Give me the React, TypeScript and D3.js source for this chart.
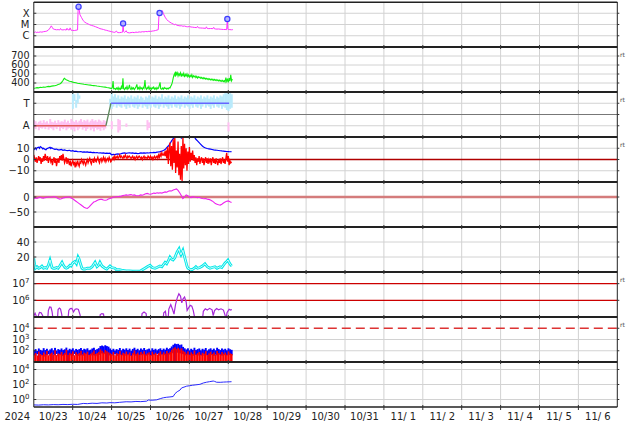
import React from 'react';
import * as d3 from 'd3';

const W = 634, H = 424;
const LEFT = 33.8, RIGHT = 617.3;
const PANEL_TOP = 2, PANEL_H = 45;

const yearLabel = '2024';
const dayLabels = ['10/23','10/24','10/25','10/26','10/27','10/28','10/29','10/30','10/31','11/ 1','11/ 2','11/ 3','11/ 4','11/ 5','11/ 6'];

// Panel 1: X-ray flux (hour since 10/23 00:00, W/m2)
const xrayFlux: [number, number][] = [
  [0,2.1e-6],[0.5,2.0e-6],[1,2.2e-6],[1.5,1.9e-6],[2,2.1e-6],[3,2.0e-6],[4,2.2e-6],[5,2.1e-6],[6,2.3e-6],[7,2.4e-6],[8,2.6e-6],[9,3.2e-6],[10,4.8e-6],[10.8,7.6e-6],[11.5,5.2e-6],[12,4.0e-6],[13,3.6e-6],[14,3.4e-6],[15,3.5e-6],[16,3.3e-6],[16.5,4.4e-6],[17,3.4e-6],[18,3.3e-6],[19,3.5e-6],[20,3.2e-6],[20.5,4.6e-6],[21,3.4e-6],[22,3.3e-6],[22.4,5.0e-6],[23,3.1e-6],[24,3.0e-6],[25,2.9e-6],[26,3.1e-6],[27,3.3e-6],
  [27.3,1.5e-4],[27.6,3.8e-4],[28,2.0e-4],[28.5,7.3e-5],[29.5,4.0e-5],[30.5,2.2e-5],[31.5,1.6e-5],[32.5,1.3e-5],[33.6,1.1e-5],[34.5,9.5e-6],[35.5,8.3e-6],[36.7,7.5e-6],[38,6.4e-6],[39,5.6e-6],[40,4.9e-6],[40.8,4.3e-6],[42,3.9e-6],[43,3.6e-6],[44,3.2e-6],[45,3.0e-6],[46,2.7e-6],[47,2.5e-6],[48,2.3e-6],[49,2.1e-6],[50,2.0e-6],[51,2.6e-6],[51.5,2.0e-6],[52,1.9e-6],[53,1.9e-6],[54,2.0e-6],[54.8,2.1e-6],
  [55.1,1.25e-5],[55.4,2.4e-6],[56,2.0e-6],[57,2.8e-6],[57.5,2.0e-6],[58,1.9e-6],[59,1.8e-6],[60,1.9e-6],[61,2.0e-6],[62,1.9e-6],[63,2.1e-6],[64,2.0e-6],[65,2.2e-6],[66,2.1e-6],[67,2.3e-6],[68,2.2e-6],[69,2.4e-6],[70,2.3e-6],[71,2.5e-6],[72,2.4e-6],[73,2.6e-6],[74,2.7e-6],[75,2.9e-6],[76,3.2e-6],[76.8,3.5e-6],
  [77.2,6.0e-5],[77.6,1.05e-4],[78.2,8.0e-5],[78.8,1.3e-4],[79.3,1.7e-4],[80,9.0e-5],[81,4.5e-5],[82,2.8e-5],[83,2.0e-5],[84,1.6e-5],[85,1.3e-5],[86,1.1e-5],[87,9.5e-6],[87.5,1.1e-5],[88,8.8e-6],[89,8.2e-6],[90.2,7.5e-6],[91,7.8e-6],[92,7.0e-6],[93,7.3e-6],[94,6.5e-6],[95,6.2e-6],[96,6.6e-6],[97,6.0e-6],[98,5.8e-6],[99,5.5e-6],[100.5,5.3e-6],[101,6.8e-6],[101.5,5.2e-6],[102,5.0e-6],[103,4.9e-6],[104,4.8e-6],[105,4.7e-6],[106,4.5e-6],[106.5,6.2e-6],[107,4.4e-6],[108,4.3e-6],[109,4.4e-6],[110.5,4.3e-6],[111,5.6e-6],[111.5,4.1e-6],[112,4.0e-6],[113,3.9e-6],[114,4.0e-6],[115,3.8e-6],[116,3.7e-6],[117,3.6e-6],[118,3.6e-6],[119,3.5e-6],
  [119.4,3.1e-5],[119.7,4.0e-6],[120,3.6e-6],[121,3.5e-6],[122,3.4e-6],[122.8,3.5e-6]
];
const flarePeaks: [number, number][] = [[27.6,3.8e-4],[55.1,1.25e-5],[77.6,1.05e-4],[119.4,3.1e-5]];
const xrayTicks: [number, string][] = [[1e-4,'X'],[1e-5,'M'],[1e-6,'C']];

// Panel 2: solar wind speed (km/s)
const windSpeed: [number, number][] = [
  [0,341],[1,344],[2,348],[3,346],[4,352],[5,350],[6,355],[7,353],[8,358],[9,362],[10,360],[11,365],[12,368],[13,370],[14,374],[15,382],[16,390],[17,402],[17.5,415],[18,428],[18.5,445],[19,452],[19.5,440],[20,436],[21,428],[22,420],[23,416],[24,410],[25,406],[26,402],[27,398],[28,395],[29,392],[30,389],[31,386],[32,384],[33,381],[34,378],[35,376],[36,373],[37,371],[38,369],[39,366],[40,364],[41,361],[42,359],[43,356],[44,354],[45,350],[46,347],[47,343],[48,338],[48.5,352],[48.9,422],[49.3,336],[50,340],[50.5,328],[51,345],[51.5,332],[52,350],[52.5,325],[53,342],[53.5,330],[54,360],[54.5,333],[55,452],[55.4,338],[56,326],[56.5,348],[57,335],[57.5,362],[58,330],[58.5,344],[59,378],[59.5,336],[60,328],[60.5,352],[61,334],[61.5,346],[62,326],[62.5,340],[63,355],[63.6,384],[64,335],[64.5,348],[65,330],[65.5,358],[66,336],[66.5,345],[67,328],[67.5,352],[68,340],[68.6,433],[69,345],[69.5,330],[70,350],[70.5,336],[71,362],[71.5,332],[72,345],[72.5,328],[73,350],[73.5,338],[74,355],[74.5,332],[75,344],[75.5,328],[76,350],[76.5,336],[77,346],[77.9,408],[78.3,338],[79,330],[79.5,345],[80,332],[80.5,350],[81,338],[81.5,345],[82,332],[82.5,342],[83,335],[83.5,348],[84,345],[84.5,365],[85,380],[85.5,410],[86,455],[86.5,490],[87,508],[87.3,470],[87.6,526],[88,495],[88.5,515],[89,478],[89.5,505],[90,485],[90.5,512],[91,470],[91.5,500],[92,482],[92.5,508],[93,465],[93.5,495],[94,478],[94.5,500],[95,470],[95.5,490],[96,465],[96.5,485],[97,470],[97.5,492],[98,462],[98.5,480],[99,468],[99.5,478],[100,460],[100.5,474],[101,455],[101.5,470],[102,458],[102.5,466],[103,452],[103.5,463],[104,450],[104.5,460],[105,446],[105.5,457],[106,444],[106.5,453],[107,440],[107.5,450],[108,438],[108.5,447],[109,435],[109.5,444],[110,432],[110.5,442],[111,430],[111.5,440],[112,428],[112.5,437],[113,425],[113.5,435],[114,423],[114.5,432],[115,420],[115.5,430],[116,418],[116.5,428],[117,415],[117.5,426],[118,412],[118.5,460],[119,418],[119.5,440],[120,408],[120.5,455],[121,420],[121.5,490],[122,425],[122.5,445]
];
const speedTicks = [400, 500, 600, 700];

// Panel 3: IMF sector (1 = Away, 3 = Toward)
const sectorLine: [number, number][] = [[0,1],[44.5,1],[47.6,3],[120.5,3]];
const awayBars: [number, number, number][] = [
  [0,0.8,1.5],[1,0.7,1.4],[2,0.9,1.2],[3,0.6,1.35],[4,0.8,1.45],[5,0.75,1.25],[6,0.85,1.5],[7,0.7,1.3],[8,0.9,1.4],[9,0.65,1.2],[10,0.8,1.6],[11,0.75,1.35],[12,0.6,1.3],[13,0.85,1.45],[14,0.7,1.25],[15,0.9,1.5],[16,0.55,1.3],[17,0.8,1.4],[18,0.7,1.35],[19,0.85,1.55],[20,0.6,1.3],[21,0.75,1.45],[22,0.8,1.25],[23,0.65,1.6],[24,0.7,1.4],[25,0.5,1.35],[26,0.85,1.5],[27,0.6,1.3],[28,0.75,1.45],[29,0.9,1.6],[30,0.65,1.35],[31,0.8,1.5],[32,0.55,1.4],[33,0.7,1.55],[34,0.85,1.3],[35,0.6,1.45],[36,0.75,1.6],[37,0.5,1.4],[38,0.8,1.5],[39,0.65,1.35],[40,0.7,1.55],[41,0.55,1.45],[42,0.8,1.3],[43,0.6,1.5],[44,0.75,1.4],
  [48,0.7,1.4],[52,0.4,1.6],[53,0.6,1.5],[57,0.9,1.2],[70,0.6,1.5],[71,0.8,1.3],[120,0.5,1.3]
];
const towardBars: [number, number, number][] = [
  [24,2.5,3.9],[25,3.2,3.8],[26,2.6,3.3],[27,3.0,3.9],[28,3.4,3.7],
  [47,2.8,3.4],[48,2.5,3.9],[49,2.7,3.6],[50,2.9,3.8],[51,2.6,3.5],[52,2.8,3.7],[53,2.7,3.4],[54,2.6,3.6],[55,2.9,3.5],[56,2.7,3.7],[57,2.5,3.4],[58,2.8,3.6],[59,2.6,3.5],[60,2.9,3.7],[61,2.7,3.4],[62,2.6,3.6],[63,2.8,3.5],[64,2.5,3.7],[65,2.7,3.4],[66,2.9,3.6],[67,2.6,3.5],[68,2.8,3.3],[69,2.7,3.6],[70,2.5,3.5],[71,2.8,3.7],[72,2.6,3.4],[73,2.9,3.6],[74,2.7,3.5],[75,2.6,3.7],[76,2.8,3.4],[77,2.5,3.6],[78,2.7,3.5],[79,2.9,3.8],[80,2.6,3.4],[81,2.8,3.6],[82,2.7,3.5],[83,2.5,3.7],[84,2.8,3.4],[85,2.6,3.6],[86,2.9,3.5],[87,2.7,3.7],[88,2.6,3.4],[89,2.8,3.6],[90,2.5,3.5],[91,2.7,3.7],[92,2.9,3.4],[93,2.6,3.6],[94,2.8,3.5],[95,2.7,3.7],[96,2.5,3.4],[97,2.8,3.6],[98,2.6,3.5],[99,2.9,3.7],[100,2.7,3.4],[101,2.6,3.6],[102,2.8,3.5],[103,2.5,3.7],[104,2.7,3.4],[105,2.9,3.6],[106,2.6,3.5],[107,2.8,3.7],[108,2.7,3.4],[109,2.5,3.6],[110,2.8,3.5],[111,2.6,3.7],[112,2.9,3.4],[113,2.7,3.6],[114,2.6,3.5],[115,2.8,3.7],[116,2.5,3.6],[117,2.7,3.8],[118,2.6,3.9],[119,2.4,3.9],[120,2.3,4.0],[121,2.5,3.9],[122,2.6,3.8]
];

// Panel 4: IMF Bt and Bz (nT)
const imfBt: [number, number][] = [
  [0,8.5],[0.5,9.5],[1,10.2],[1.5,9],[2,10.5],[3,11],[3.5,10],[4,11.5],[5,10.5],[5.5,9.5],[6,10],[7,9],[7.5,8.7],[8,9.5],[9,10.2],[10,10.8],[10.5,9.8],[11,10.5],[12,9.6],[13,9],[14,9.3],[15,8.6],[16,8.5],[17,8.9],[18,8.2],[19,8.6],[20,8],[21,7.9],[22,8.2],[23,7.5],[24,7.8],[25,7.2],[26,7.4],[27,7],[28,6.9],[29,7.1],[30,6.6],[31,6.8],[32,6.5],[33,6.7],[34,6.3],[35,6.5],[36,6.1],[37,6.3],[38,6],[39,6.2],[40,5.8],[41,6],[42,5.6],[43,5.9],[44,5.5],[45,5.7],[46,5.4],[47,5.6],[48,4.2],[49,4.6],[50,4.3],[51,4.8],[52,5],[53,4.7],[54,5.3],[55,5.6],[56,5.9],[57,5.5],[58,5.8],[59,6],[60,5.7],[61,5.9],[62,5.4],[63,5.6],[64,5.3],[65,5.5],[66,5.8],[67,5.6],[68,5.9],[69,5.7],[70,6],[71,5.8],[72,6.1],[73,6],[74,6.3],[75,6.2],[76,6.5],[77,6.7],[78,7],[79,7.4],[80,8],[81,8.8],[82,10.5],[83,12],[84,14],[85,16.5],[86,18.5],[87,20.5],[88,22],[89,21.5],[90,22.5],[91,19],[92,21],[93,22],[94,21.5],[95,22],[96,21],[97,21.5],[98,20.5],[99,20.2],[100,18],[101,16.5],[102,15],[103,13.5],[104,12],[105,10.8],[106,10.2],[107,9.8],[108,9.5],[109,9.2],[110,8.9],[111,8.6],[112,8.4],[113,8.2],[114,8],[115,7.8],[116,7.6],[117,7.5],[118,7.3],[119,7.1],[120,7],[121,6.9],[122,7]
];
const imfBz: [number, number][] = [
  [0,4],[0.5,1],[1,-2],[1.5,2],[2,-3],[2.5,0],[3,3],[3.5,-1],[4,2],[4.5,-4],[5,1],[5.5,-2],[6,3],[6.5,-1],[7,5],[7.5,2],[8,-1],[8.5,3],[9,-3],[9.5,1],[10,2],[10.5,-2],[11,0],[11.5,-5],[12,-1],[12.5,2],[13,-3],[13.5,1],[14,-6],[14.5,-2],[15,1],[15.5,-3],[16,3],[16.5,0],[17,4],[17.5,-1],[18,5],[18.5,1],[19,-3],[19.5,-1],[20,2],[20.5,-4],[21,1],[21.5,-2],[22,-5],[22.5,-1],[23,-6],[23.5,-3],[24,-1],[24.5,-4],[25,-2],[25.5,-7],[26,-3],[26.5,-5],[27,-1],[27.5,-4],[28,-6],[28.5,-2],[29,-3],[29.5,0],[30,-2],[30.5,-4],[31,-1],[31.5,-3],[32,-5],[32.5,-2],[33,0],[33.5,-3],[34,-1],[34.5,1],[35,-2],[35.5,-4],[36,-1],[36.5,0],[37,-3],[37.5,1],[38,-1],[38.5,-2],[39,0],[39.5,2],[40,-1],[40.5,-3],[41,0],[41.5,1],[42,-2],[42.5,0],[43,2],[43.5,-1],[44,1],[44.5,-2],[45,0],[45.5,1],[46,-1],[46.5,2],[47,0],[47.5,-2],[48,-1],[48.5,1],[49,2],[49.5,0],[50,3],[50.5,1],[51,2],[51.5,3],[52,1],[52.5,2],[53,4],[53.5,2],[54,3],[55,1],[55.5,3],[56,2],[56.5,4],[57,2],[57.5,1],[58,3],[58.5,2],[59,3],[60,1],[60.5,2],[61,3],[61.5,1],[62,2],[62.5,0],[63,2],[63.5,3],[64,1],[64.5,2],[65,3],[66,1],[66.5,2],[67,0],[67.5,2],[68,3],[68.5,1],[69,2],[70,1],[70.5,3],[71,2],[71.5,1],[72,3],[72.5,1],[73,2],[73.5,0],[74,2],[74.5,3],[75,1],[75.5,2],[76,3],[76.5,1],[77,4],[77.5,2],[78,5],[78.5,3],[79,6],[79.5,4],
  [80,4],[80.5,6],[81,3],[81.5,8],[82,1],[82.5,11],[83,-4],[83.5,9],[84,15],[84.5,-6],[85,12],[85.5,-9],[86,18],[86.5,-3],[87,20],[87.5,-12],[88,8],[88.5,-7],[89,16],[89.5,-14],[90,5],[90.5,-18],[91,12],[91.5,-19],[92,20],[92.5,-8],[93,14],[93.5,-5],[94,10],[94.5,-10],[95,7],[95.5,-4],[96,11],[96.5,-2],[97,6],[97.5,0],[98,8],[98.5,-1],[99,4],[99.5,-3],[100,2],[100.5,-5],[101,1],[101.5,-2],[102,3],[102.5,-4],[103,0],[103.5,2],[104,-3],[104.5,1],[105,-5],[105.5,-1],[106,2],[106.5,-3],[107,1],[107.5,-4],[108,0],[108.5,-2],[109,1],[109.5,-5],[110,-1],[110.5,2],[111,-3],[111.5,0],[112,-4],[112.5,1],[113,-2],[113.5,-5],[114,0],[114.5,-3],[115,1],[115.5,-4],[116,-1],[116.5,2],[117,-3],[117.5,0],[118,-4],[118.5,1],[119,6],[119.5,-2],[120,3],[120.5,-5],[121,-1],[121.5,-3],[122,-2]
];
const imfTicks = [10, 0, -10];

// Panel 5: Dst (nT)
const dstIndex: [number, number][] = [
  [0,-4],[1,-3],[2,-5],[3,-2],[4,-1],[5,-3],[6,-4],[7,-2],[8,-1],[9,0],[10,0],[11,-1],[12,1],[13,1],[14,-2],[15,-5],[16,-7],[17,-6],[18,-3],[19,-2],[20,-1],[21,0],[22,0],[23,-3],[24,-6],[25,-10],[26,-14],[27,-18],[28,-22],[29,-26],[30,-30],[31,-34],[32,-37],[33,-38],[34,-34],[35,-28],[36,-22],[37,-17],[38,-15],[39,-12],[40,-9],[41,-8],[42,-8],[43,-10],[44,-11],[45,-10],[46,-7],[47,-5],[48,-3],[49,-1],[50,0],[51,1],[52,1],[53,2],[54,3],[55,5],[56,6],[57,7],[58,6],[59,7],[60,8],[61,6],[62,7],[63,5],[64,4],[65,5],[66,7],[67,6],[68,8],[69,11],[70,12],[71,10],[72,9],[73,11],[74,13],[75,12],[76,14],[77,13],[78,14],[79,13],[80,15],[81,17],[82,16],[83,19],[84,21],[85,20],[86,23],[87,25],[88,27],[89,22],[90,14],[91,5],[92,-5],[93,0],[94,7],[95,4],[96,0],[97,-2],[98,1],[99,0],[100,-1],[101,-2],[102,-1],[103,-3],[104,-5],[105,-6],[106,-5],[107,-7],[108,-8],[109,-10],[110,-13],[111,-17],[112,-22],[113,-24],[114,-26],[115,-27],[116,-24],[117,-20],[118,-17],[119,-14],[120,-13],[121,-16],[122,-18]
];
const dstTicks = [0, -50];

// Panel 6
const cyanIndex: [number, number][] = [
  [0,18],[0.5,10],[1,5],[2,7],[3,5],[4,6],[5,8],[6,5],[7,6],[8,5],[9,9],[10,16],[10.5,12],[11.2,6],[12,5],[13,5],[14,6],[15,5],[16,8],[17.4,13],[18,10],[19.2,6],[20,5],[21,6],[22.3,9],[23,8],[24,12],[25.4,14],[26.3,11],[27.3,20],[28,17],[28.5,13],[29.7,5],[30.5,4],[31.6,4],[33,5],[34.7,5],[36,7],[37.8,13],[39,7],[40,9],[40.8,13],[42,8],[43.9,5],[45,4],[46,6],[47,8],[48,6],[50,5],[51,3],[53,3],[55,2],[57,1.5],[59,1.5],[61,1],[63,1.2],[65.5,1],[67,3],[68.6,5],[70,7],[71.7,9],[73,6],[74.8,5],[76,6],[77.8,8],[79,7],[81,13],[82,11],[83,15],[84,20],[85,17],[85.9,16],[87,19],[87.7,23],[88.5,27],[89.6,31],[90.2,26],[90.8,23],[92,29],[92.8,22],[93.9,13],[94.5,8],[95.1,5],[96,4],[97.6,3],[99,5],[100,7],[101,5],[102.5,6],[104,8],[105.6,11],[107,7],[108.7,5],[110,6],[111.8,7],[113,5],[114.9,7],[116,6],[117,9],[118,12],[119,14],[119.8,16],[120.7,12],[121.6,9],[122.2,8]
];
const cyanTicks = [40, 20];

// Panel 7
const purpleFlux: [number, number][] = [
  [0,1.2e5],[0.8,1.7e5],[1.6,1.1e5],[2.2,6e4],[3,1.4e5],[3.5,1.9e5],[4.5,1.8e5],[5.5,1.2e5],[6,6e4],[8.5,6e4],[9,2.5e5],[9.8,4e5],[10.6,3.8e5],[11.3,2e5],[12,6e4],[14.5,6e4],[15,2.8e5],[15.8,3.4e5],[16.5,3e5],[17.2,1.5e5],[17.8,6e4],[21,6e4],[21.6,2.5e5],[22.5,3.2e5],[23.5,3.3e5],[24.5,2.0e5],[25.5,2.9e5],[26.5,3.1e5],[27.5,2.8e5],[28.5,1.4e5],[29.2,6e4],[40.5,6e4],[41,1.4e5],[42,1.6e5],[43,1.5e5],[43.6,6e4],[66.3,6e4],[66.8,1.6e5],[68,2e5],[69.3,1.6e5],[69.8,6e4],[79.6,6e4],[80.2,1.8e5],[81.2,2.2e5],[82,6e4],[82.8,6e4],[83.3,3e5],[84.5,5.5e5],[85.5,3e5],[86.5,1.5e5],[87.5,6e5],[88.5,1.4e6],[89.5,2.5e6],[90.5,1.8e6],[91.3,7e5],[92,1.2e6],[93,1.6e6],[94,8e5],[94.6,2.5e5],[95.5,3.5e5],[96.5,5e5],[97.5,4.5e5],[98.4,2.4e5],[99,1.2e5],[99.6,6e4],[104,6e4],[104.6,2.2e5],[105.8,3.1e5],[107,2.6e5],[108.5,3.3e5],[110,2.7e5],[110.7,1.2e5],[111.5,2.4e5],[112.8,3.2e5],[114,2.7e5],[115.5,3.1e5],[117,2.6e5],[118,1.3e5],[118.6,6e4],[119.2,1.8e5],[120.5,2.9e5],[121.5,2.6e5],[122.2,2.8e5]
];
const purpleTicks = [1e6, 1e7];

// Panel 8 (hourly, from hour 0)
const blueHi = [110,140,95,160,120,105,170,115,150,100,130,165,110,180,105,140,120,160,115,135,190,110,150,125,165,105,145,120,140,175,115,150,130,165,110,125,160,185,120,140,170,260,290,250,310,260,230,160,115,150,105,140,120,175,110,150,125,165,115,155,100,145,185,120,150,110,160,125,175,115,135,155,105,165,120,150,110,140,165,115,155,125,185,140,170,240,340,430,390,410,320,360,220,165,130,165,110,150,120,185,115,140,160,110,150,125,175,105,135,165,120,155,110,185,140,115,160,125,150,110,165,135,120];
const blueLo = [40,35,50,12,45,38,55,30,42,48,36,14,44,39,52,33,46,40,35,50,41,12,38,45,36,52,40,34,47,39,43,36,50,13,41,37,46,40,33,48,42,55,60,50,58,12,45,38,44,36,50,40,35,47,42,38,52,36,44,40,34,49,41,37,45,12,43,39,50,36,42,47,35,40,44,38,52,36,41,45,39,47,12,42,50,60,70,12,65,72,58,66,50,44,38,46,12,40,36,48,42,37,45,40,35,49,43,38,12,46,41,36,44,39,47,42,37,45,40,38,44,41,39];
const redHi = [45,62,38,85,50,42,70,48,95,40,55,68,44,110,41,58,52,78,47,63,120,44,66,55,88,40,72,50,64,98,47,68,58,82,44,55,70,105,52,62,80,130,100,70,115,90,72,60,48,78,40,62,52,95,45,66,55,85,48,70,38,62,105,52,68,45,78,55,90,48,60,72,42,82,52,66,45,62,88,48,72,55,95,62,80,120,160,200,140,180,130,165,100,80,55,88,45,72,52,105,48,62,78,45,66,55,92,42,58,82,52,70,45,95,62,48,78,55,68,45,88,60,52];
const bandTicks = [1e2, 1e3, 1e4];

// Panel 9
const fluenceLine: [number, number][] = [
  [0,0.19],[3,0.18],[6,0.2],[9,0.19],[12,0.21],[15,0.2],[18,0.22],[21,0.21],[24,0.23],[27,0.22],[28.5,0.25],[30.5,0.3],[33,0.28],[36,0.32],[39,0.3],[42,0.36],[45,0.34],[47,0.38],[50,0.36],[53,0.42],[57,0.5],[60,0.48],[63,0.55],[66,0.52],[69.6,0.6],[70.7,0.85],[73,0.8],[75.8,0.9],[78,1.3],[79.9,1.7],[82,2],[84,2.2],[86,2.5],[87.1,6],[88.5,11],[90.2,18],[91.2,35],[93.3,50],[94.3,60],[96,68],[98,80],[100,90],[102.5,105],[104.6,160],[106.5,200],[108.5,240],[110.7,290],[111.5,260],[112.8,200],[115,195],[117,210],[119,220],[121,230],[122,235]
];
const fluenceTicks = [1e0, 1e2, 1e4];

const FONT = 'DejaVu Sans, sans-serif';

function pow10Label(v: number) {
  return Math.round(Math.log10(v));
}

export default function App() {
  const x = d3.scaleLinear().domain([0, 360]).range([LEFT, RIGHT]);
  const pt = (i: number) => PANEL_TOP + i * PANEL_H;
  const pb = (i: number) => PANEL_TOP + (i + 1) * PANEL_H;

  const y1 = d3.scaleLog().domain([1e-7, 1e-3]).range([pb(0), pt(0)]);
  const y2 = d3.scaleLinear().domain([300, 800]).range([pb(1), pt(1)]);
  const y3 = d3.scaleLinear().domain([0, 4]).range([pb(2), pt(2)]);
  const y4 = d3.scaleLinear().domain([-20, 20]).range([pb(3), pt(3)]);
  const y5 = d3.scaleLinear().domain([-100, 50]).range([pb(4), pt(4)]);
  const y6 = d3.scaleLinear().domain([0, 60]).range([pb(5), pt(5)]);
  const y7 = d3.scaleLog().domain([1e5, 5e7]).range([pb(6), pt(6)]);
  const y8 = d3.scaleLog().domain([10, 1e5]).range([pb(7), pt(7)]);
  const y9 = d3.scaleLog().domain([0.1, 1e5]).range([pb(8), pt(8)]);

  const mk = (ys: any) => d3.line<[number, number]>().x(d => x(d[0])).y(d => ys(d[1]));

  const gridC = '#d2d2d2';
  const days = d3.range(1, 15).map(i => i * 24);
  const hourW = x(1) - x(0);

  const hLines: { y: number; }[] = [];
  const addH = (ys: any, vals: number[]) => vals.forEach(v => hLines.push({ y: ys(v) }));
  addH(y1, [1e-4, 1e-5, 1e-6]);
  addH(y2, speedTicks);
  addH(y3, [1, 3]);
  addH(y4, [10, -10]);
  addH(y5, [-50]);
  addH(y6, cyanTicks);
  addH(y8, [1e2, 1e3]);
  addH(y9, fluenceTicks);

  const tickYs: number[] = [];
  [[y1,[1e-4,1e-5,1e-6]],[y2,speedTicks],[y3,[1,2,3]],[y4,imfTicks],[y5,dstTicks],[y6,cyanTicks],[y7,purpleTicks],[y8,bandTicks],[y9,fluenceTicks]].forEach(([s, vs]: any) => vs.forEach((v: number) => tickYs.push(s(v))));

  const labelStyle = { fontFamily: FONT, fontSize: 10, fill: '#222' } as const;
  const smallLabel = { fontFamily: FONT, fontSize: 9.6, fill: '#222' } as const;
  const LX = 29.5;

  const rtPanels = [1, 2, 3, 6, 7];

  const clip = (i: number) => `url(#clip${i})`;

  const sectorColor = (a: number, b: number) => (a === 1 && b === 1 ? '#e05a5a' : a === 3 && b === 3 ? '#6666ff' : '#5d8a5d');

  const powLabel = (ys: any, v: number, key: string) => (
    <text key={key} x={LX} y={ys(v)} dy="0.35em" textAnchor="end" style={labelStyle}>
      10<tspan dy="-4" fontSize="7">{pow10Label(v)}</tspan>
    </text>
  );

  return (
    <svg width={W} height={H} style={{ position: 'fixed', left: 0, top: 0, background: '#fff' }}>
      <defs>
        {d3.range(9).map(i => (
          <clipPath id={`clip${i}`} key={i}>
            <rect x={LEFT} y={pt(i)} width={RIGHT - LEFT} height={PANEL_H} />
          </clipPath>
        ))}
      </defs>
      <rect x={0} y={0} width={W} height={H} fill="#fff" />

      {days.map(d => (
        <line key={d} x1={x(d)} x2={x(d)} y1={pt(0)} y2={pb(8)} stroke={gridC} strokeWidth={1} />
      ))}
      {hLines.map((h, i) => (
        <line key={i} x1={LEFT} x2={RIGHT} y1={h.y} y2={h.y} stroke={gridC} strokeWidth={1} />
      ))}

      <g clipPath={clip(0)}>
        <path d={mk(y1)(xrayFlux) || ''} fill="none" stroke="#ff33ff" strokeWidth={1} />
      </g>
      {flarePeaks.map((p, i) => (
        <circle key={i} cx={x(p[0])} cy={y1(p[1])} r={2.6} fill="#b4b4ff" stroke="#3c3cff" strokeWidth={1.2} />
      ))}

      <g clipPath={clip(1)}>
        <path d={mk(y2)(windSpeed) || ''} fill="none" stroke="#11ee11" strokeWidth={1.1} />
      </g>

      <g clipPath={clip(2)}>
        <line x1={LEFT} x2={RIGHT} y1={y3(2)} y2={y3(2)} stroke="#777" strokeWidth={1} />
        {awayBars.map((b, i) => (
          <rect key={'a' + i} x={x(b[0]) - hourW / 2} width={hourW + 0.4} y={y3(b[2])} height={y3(b[1]) - y3(b[2])} fill="#ffc0f2" />
        ))}
        {towardBars.map((b, i) => (
          <rect key={'t' + i} x={x(b[0]) - hourW / 2} width={hourW + 0.4} y={y3(b[2])} height={y3(b[1]) - y3(b[2])} fill="#b9eafb" />
        ))}
        {sectorLine.slice(1).map((p, i) => {
          const a = sectorLine[i];
          return <line key={i} x1={x(a[0])} y1={y3(a[1])} x2={x(p[0])} y2={y3(p[1])} stroke={sectorColor(a[1], p[1])} strokeWidth={1.3} />;
        })}
      </g>

      <g clipPath={clip(3)}>
        <line x1={LEFT} x2={RIGHT} y1={y4(0)} y2={y4(0)} stroke="#b00000" strokeWidth={1.4} />
        <path d={mk(y4)(imfBt) || ''} fill="none" stroke="#0000ff" strokeWidth={1.2} />
        <path d={mk(y4)(imfBz) || ''} fill="none" stroke="#ff0000" strokeWidth={1.3} />
      </g>

      <g clipPath={clip(4)}>
        <line x1={LEFT} x2={RIGHT} y1={y5(0)} y2={y5(0)} stroke="#d47c7c" strokeWidth={2.4} />
        <path d={mk(y5)(dstIndex) || ''} fill="none" stroke="#ee22ee" strokeWidth={1.1} />
      </g>

      <g clipPath={clip(5)}>
        <path d={mk(y6)(cyanIndex) || ''} fill="none" stroke="#00e8e8" strokeWidth={2.8} />
        <path d={mk(y6)(cyanIndex) || ''} fill="none" stroke="#ffffff" strokeWidth={0.8} />
      </g>

      <g clipPath={clip(6)}>
        {purpleTicks.map(v => (
          <line key={v} x1={LEFT} x2={RIGHT} y1={y7(v)} y2={y7(v)} stroke="#cc0000" strokeWidth={1.2} />
        ))}
        <path d={mk(y7)(purpleFlux) || ''} fill="none" stroke="#a628d8" strokeWidth={1.2} />
      </g>

      <g clipPath={clip(7)}>
        {blueHi.map((v, i) => (
          <rect key={'b' + i} x={x(i) - hourW / 2} width={hourW + 0.3} y={y8(v)} height={y8(blueLo[i]) - y8(v)} fill="#0000ff" />
        ))}
        {redHi.map((v, i) => (
          <rect key={'r' + i} x={x(i) - hourW / 2 + 0.2} width={hourW} y={y8(v)} height={pb(7) - y8(v)} fill="#ff0000" />
        ))}
        <line x1={LEFT} x2={RIGHT} y1={y8(1e4)} y2={y8(1e4)} stroke="#dd3333" strokeWidth={1.5} strokeDasharray="9,5" />
      </g>

      <g clipPath={clip(8)}>
        <path d={mk(y9)(fluenceLine) || ''} fill="none" stroke="#2a2aff" strokeWidth={1} />
      </g>

      <line x1={LEFT} x2={LEFT} y1={pt(0)} y2={pb(8)} stroke="#222" strokeWidth={1} />
      <line x1={RIGHT} x2={RIGHT} y1={pt(0)} y2={pb(8)} stroke="#222" strokeWidth={1} />
      {tickYs.map((ty, i) => (
        <g key={i}>
          <line x1={LEFT} x2={LEFT + 2.5} y1={ty} y2={ty} stroke="#333" strokeWidth={1} />
          <line x1={RIGHT} x2={RIGHT + 2} y1={ty} y2={ty} stroke="#333" strokeWidth={1} />
        </g>
      ))}
      <line x1={LEFT} x2={RIGHT} y1={pt(0) + 0.3} y2={pt(0) + 0.3} stroke="#222" strokeWidth={1.5} />
      {d3.range(1, 9).map(i => (
        <line key={i} x1={LEFT} x2={RIGHT} y1={pt(i)} y2={pt(i)} stroke="#222" strokeWidth={2.2} />
      ))}
      <line x1={LEFT} x2={RIGHT} y1={pb(8)} y2={pb(8)} stroke="#222" strokeWidth={1.5} />
      {days.map(d => (
        <g key={'t' + d}>
          {d3.range(1, 10).map(i => (
            <line key={i} x1={x(d)} x2={x(d)} y1={pt(i) - 2} y2={pt(i) + (i === 9 ? 3 : 2)} stroke="#333" strokeWidth={1} />
          ))}
        </g>
      ))}

      {xrayTicks.map(([v, s]) => (
        <text key={s} x={LX} y={y1(v)} dy="0.35em" textAnchor="end" style={labelStyle}>{s}</text>
      ))}
      {speedTicks.map(v => (
        <text key={v} x={LX} y={y2(v)} dy="0.35em" textAnchor="end" style={smallLabel}>{v}</text>
      ))}
      <text x={LX} y={y3(3)} dy="0.35em" textAnchor="end" style={labelStyle}>T</text>
      <text x={LX} y={y3(1)} dy="0.35em" textAnchor="end" style={labelStyle}>A</text>
      {imfTicks.map(v => (
        <text key={v} x={LX} y={y4(v)} dy="0.35em" textAnchor="end" style={labelStyle}>{v < 0 ? '\u2212' + Math.abs(v) : v}</text>
      ))}
      {dstTicks.map(v => (
        <text key={v} x={LX} y={y5(v)} dy="0.35em" textAnchor="end" style={labelStyle}>{v < 0 ? '\u2212' + Math.abs(v) : v}</text>
      ))}
      {cyanTicks.map(v => (
        <text key={v} x={LX} y={y6(v)} dy="0.35em" textAnchor="end" style={labelStyle}>{v}</text>
      ))}
      {purpleTicks.map(v => powLabel(y7, v, 'p' + v))}
      {bandTicks.map(v => powLabel(y8, v, 'b' + v))}
      {fluenceTicks.map(v => powLabel(y9, v, 'f' + v))}

      {rtPanels.map(i => (
        <text key={i} x={620} y={pt(i) + 10} style={{ fontFamily: FONT, fontSize: 6, fill: '#444' }}>rt</text>
      ))}

      <text x={30} y={420} textAnchor="end" style={labelStyle}>{yearLabel}</text>
      {dayLabels.map((s, i) => (
        <text key={s} x={x(i * 24 + 12)} y={420} textAnchor="middle" style={{ ...labelStyle, whiteSpace: 'pre' }}>{s}</text>
      ))}
    </svg>
  );
}
